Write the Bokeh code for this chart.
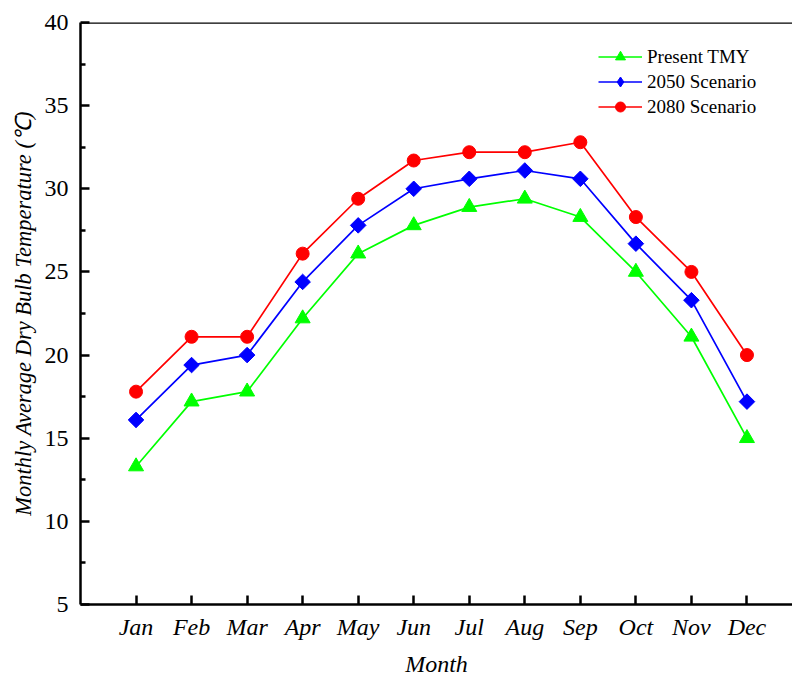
import math
from bokeh.plotting import figure
from bokeh.models import FixedTicker, Span, Legend, LegendItem, Range1d
from bokeh.embed import file_html
from bokeh.resources import INLINE

months = ["Jan", "Feb", "Mar", "Apr", "May", "Jun",
          "Jul", "Aug", "Sep", "Oct", "Nov", "Dec"]
present_tmy = [13.3, 17.2, 17.8, 22.2, 26.1, 27.8, 28.9, 29.4, 28.3, 25.0, 21.1, 15.0]
scenario_2050 = [16.1, 19.4, 20.0, 24.4, 27.8, 30.0, 30.6, 31.1, 30.6, 26.7, 23.3, 17.2]
scenario_2080 = [17.8, 21.1, 21.1, 26.1, 29.4, 31.7, 32.2, 32.2, 32.8, 28.3, 25.0, 20.0]
y_ticks = [5, 10, 15, 20, 25, 30, 35, 40]

x = list(range(1, len(months) + 1))
FONT = "Liberation Serif"

p = figure(width=792, height=679, output_backend="svg", toolbar_location=None,
           x_range=Range1d(0, 12.82), y_range=Range1d(5, 40),
           min_border_left=80, min_border_right=0, min_border_top=22,
           min_border_bottom=75)
p.outline_line_color = None
p.grid.visible = False
p.background_fill_color = "white"
p.border_fill_color = "white"

# top frame line
p.add_layout(Span(location=40, dimension="width", line_color="black", line_width=2.5))

# x axis
xa = p.xaxis[0]
xa.ticker = FixedTicker(ticks=x)
xa.major_label_overrides = {i: m for i, m in zip(x, months)}
xa.minor_tick_line_color = None
xa.major_tick_in = 9
xa.major_tick_out = 0
xa.axis_line_width = 2.5
xa.axis_line_color = "black"
xa.major_tick_line_width = 2.5
xa.major_tick_line_color = "black"
xa.major_label_text_font = FONT
xa.major_label_text_font_style = "italic"
xa.major_label_text_font_size = "24px"
xa.major_label_text_color = "black"
xa.major_label_standoff = 9
xa.axis_label = "Month"
xa.axis_label_text_font = FONT
xa.axis_label_text_font_style = "italic"
xa.axis_label_text_font_size = "24px"
xa.axis_label_text_color = "black"
xa.axis_label_standoff = 8

# y axis
ya = p.yaxis[0]
ya.ticker = FixedTicker(ticks=y_ticks, minor_ticks=[7.5, 12.5, 17.5, 22.5, 27.5, 32.5, 37.5])
ya.major_tick_in = 9
ya.major_tick_out = 0
ya.minor_tick_in = 5
ya.minor_tick_out = 0
ya.axis_line_width = 2.5
ya.axis_line_color = "black"
ya.major_tick_line_width = 2.5
ya.major_tick_line_color = "black"
ya.minor_tick_line_width = 2.5
ya.minor_tick_line_color = "black"
ya.major_label_text_font = FONT
ya.major_label_text_font_size = "24px"
ya.major_label_text_color = "black"
ya.major_label_standoff = 12
ya.axis_label = "Monthly Average Dry Bulb Temperature (℃)"
ya.axis_label_text_font = FONT
ya.axis_label_text_font_style = "italic"
ya.axis_label_text_font_size = "22.5px"
ya.axis_label_text_color = "black"
ya.axis_label_standoff = 6

# (name, values, colour, plot marker, size, angle, legend marker, legend size)
series = [
    ("Present TMY", present_tmy, "#00ff00", "triangle", 15, 0.0, None, None),
    ("2050 Scenario", scenario_2050, "#0000ff", "square", 11, math.pi / 4, "diamond", 17),
    ("2080 Scenario", scenario_2080, "#ff0000", "circle", 13, 0.0, None, None),
]

items = []
for name, vals, color, marker, size, angle, lg_marker, lg_size in series:
    ln = p.line(x, vals, line_color=color, line_width=1.7)
    mk = p.scatter(x, vals, marker=marker, size=size, angle=angle,
                   fill_color=color, line_color=color)
    if lg_marker is None:
        items.append(LegendItem(label=name, renderers=[ln, mk]))
    else:
        # legend swatch only: the rotated square keeps no angle in the legend
        swatch = p.scatter([float("nan")], [float("nan")], marker=lg_marker, size=lg_size,
                           fill_color=color, line_color=color)
        items.append(LegendItem(label=name, renderers=[ln, swatch]))

legend = Legend(items=items, location=(518, 485), padding=0, spacing=0,
                glyph_width=44, glyph_height=25, label_height=25,
                label_standoff=5, border_line_color=None,
                background_fill_alpha=0, label_text_color="black",
                label_text_font=FONT, label_text_font_size="19px")
p.add_layout(legend)

open("out.html", "w").write(file_html(p, INLINE))
